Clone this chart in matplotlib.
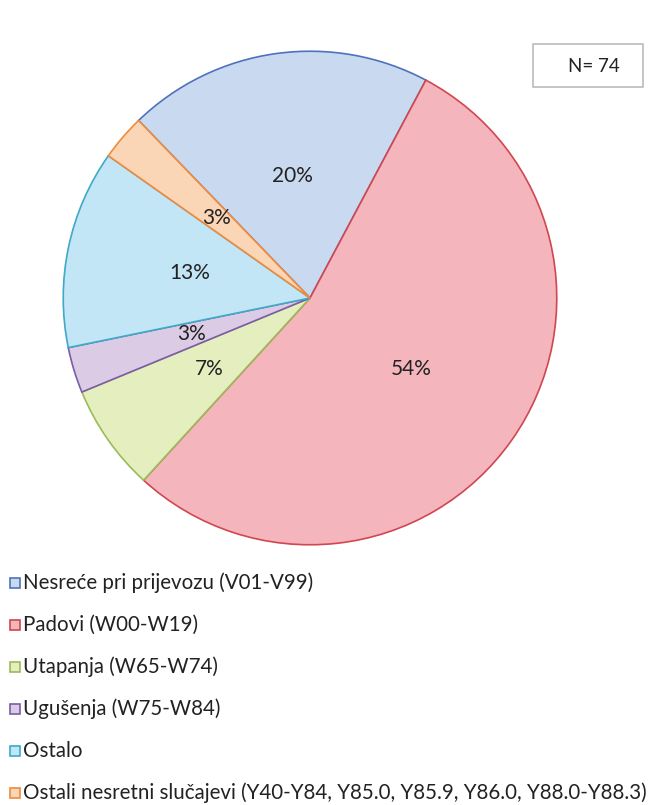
import matplotlib.pyplot as plt
from matplotlib.patches import Rectangle

plt.rcParams['font.family'] = ['Lato', 'DejaVu Sans']

# Podaci (postoci, N = 74)
labels = ['Nesreće pri prijevozu (V01-V99)', 'Padovi (W00-W19)', 'Utapanja (W65-W74)',
          'Ugušenja (W75-W84)', 'Ostalo',
          'Ostali nesretni slučajevi (Y40-Y84, Y85.0, Y85.9, Y86.0, Y88.0-Y88.3)']
shares = [20, 54, 7, 3, 13, 3]
fills = ['#c9d9f0', '#f5b5bd', '#e4eebf', '#dccbe4', '#c2e6f6', '#fbd6b6']
edges = ['#4f72bd', '#d0474f', '#9bbb59', '#7a5ca8', '#3fa9c8', '#f08a3c']

fig = plt.figure(figsize=(6.48, 8.05), dpi=100)
W, H = 648, 805
cx, cy, r = 310, 298, 248
ax = fig.add_axes([(cx - r) / W, (H - cy - r) / H, 2 * r / W, 2 * r / H])

wedges, texts, autotexts = ax.pie(shares, colors=fills, startangle=134, counterclock=False,
                                  autopct='%1.0f%%', pctdistance=0.5,
                                  wedgeprops=dict(linewidth=1.2),
                                  textprops=dict(fontsize=15, color='#222222'))
for w, ec in zip(wedges, edges):
    w.set_edgecolor(ec)
ax.set_xlim(-1.005, 1.005)
ax.set_ylim(-1.005, 1.005)
ax.set_aspect('equal')

# N okvir
fig.text(594 / W, 1 - 66 / H, 'N= 74', ha='center', va='center', fontsize=13.5, color='#222222')
fig.patches.append(Rectangle((533 / W, 1 - 87 / H), 110 / W, 43 / H, transform=fig.transFigure,
                             facecolor='white', edgecolor='#bbbbbb', linewidth=1.2, zorder=0))

# Legenda
for i, (lab, fc, ec) in enumerate(zip(labels, fills, edges)):
    y = 583 + i * 42
    fig.patches.append(Rectangle((10 / W, 1 - (y + 5) / H), 10 / W, 10 / H, transform=fig.transFigure,
                                 facecolor=fc, edgecolor=ec, linewidth=1.2))
    fig.text(23 / W, 1 - y / H, lab, ha='left', va='center', fontsize=14.8, color='#222222')

fig.savefig('out.png', dpi=100, facecolor='white')
